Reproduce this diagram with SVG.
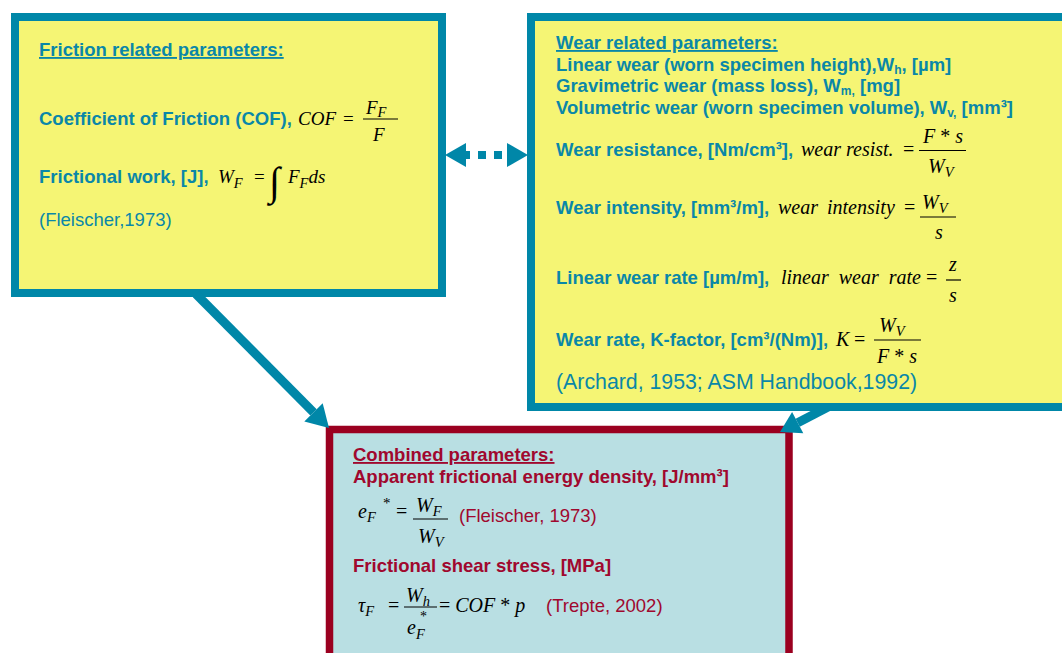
<svg xmlns="http://www.w3.org/2000/svg" width="1062" height="653" viewBox="0 0 1062 653">
<style>
.box{fill:#F5F574;stroke:#0087A8;stroke-width:8}
.cbox{fill:#B9DFE3;stroke:#9B0020;stroke-width:7.5}
.b{font-family:"Liberation Sans",Arial,sans-serif;font-weight:bold;font-size:18.5px}
.r{font-family:"Liberation Sans",Arial,sans-serif;font-size:18.5px}
.t{fill:#0A87A8}
.d{fill:#A0082E}
.u{text-decoration:underline}
.m{font-family:"Liberation Serif","Times New Roman",serif;font-style:italic;font-size:20px;fill:#000}
.n{font-family:"Liberation Serif","Times New Roman",serif;font-style:normal;font-size:20px;fill:#000}
.s{font-size:14.5px}
.bar{stroke:#000;stroke-width:1.2}
.conn{stroke:#0087A8;fill:none}
.head{fill:#0087A8}
</style>

<g id="friction-box">
<rect class="box" x="15" y="17" width="427" height="276"/>
<text class="b t u" x="39" y="56">Friction related parameters:</text>
<text class="b t" x="39" y="125">Coefficient of Friction (COF),</text>
<text class="m" x="298" y="125" style="font-size:19px">COF</text>
<text class="n" x="343" y="125" style="font-size:19px">=</text>
<text class="m" x="366" y="114" style="font-size:19px">F<tspan class="s" dy="3">F</tspan></text>
<line class="bar" x1="363" y1="119" x2="398" y2="119"/>
<text class="m" x="373" y="141" style="font-size:19px">F</text>
<text class="b t" x="39" y="183">Frictional work, [J],</text>
<text class="m" x="218" y="183" style="font-size:19px">W<tspan class="s" dy="5">F</tspan></text>
<text class="n" x="254" y="183" style="font-size:19px">=</text>
<text class="n" x="269" y="195" style="font-size:40px">∫</text>
<text class="m" x="288" y="183" style="font-size:19px">F<tspan class="s" dy="5">F</tspan><tspan dy="-5">ds</tspan></text>
<text class="r t" x="39" y="226">(Fleischer,1973)</text>
</g>

<g id="wear-box">
<rect class="box" x="531" y="17" width="600" height="390"/>
<text class="b t u" x="556" y="49">Wear related parameters:</text>
<text class="b t" x="556" y="70.5">Linear wear (worn specimen height),W<tspan style="font-size:12px" dy="3">h</tspan><tspan dy="-3">, [µm]</tspan></text>
<text class="b t" x="556" y="92">Gravimetric wear (mass loss), W<tspan style="font-size:12px" dy="3">m,</tspan><tspan dy="-3"> [mg]</tspan></text>
<text class="b t" x="556" y="113.5">Volumetric wear (worn specimen volume), W<tspan style="font-size:12px" dy="3">v,</tspan><tspan dy="-3"> [mm³]</tspan></text>

<text class="b t" x="556" y="156">Wear resistance, [Nm/cm³],</text>
<text class="m" x="801" y="156">wear resist.</text>
<text class="n" x="903" y="156">=</text>
<text class="m" x="923" y="143">F<tspan class="n"> * </tspan>s</text>
<line class="bar" x1="919" y1="150.5" x2="966" y2="150.5"/>
<text class="m" x="928" y="173">W<tspan class="s" dy="4">V</tspan></text>

<text class="b t" x="556" y="214">Wear intensity, [mm³/m],</text>
<text class="m" x="778" y="214" style="word-spacing:4px">wear intensity</text>
<text class="n" x="904" y="214">=</text>
<text class="m" x="922" y="209">W<tspan class="s" dy="4">V</tspan></text>
<line class="bar" x1="920" y1="217" x2="956" y2="217"/>
<text class="m" x="935" y="239">s</text>

<text class="b t" x="556" y="284">Linear wear rate [µm/m],</text>
<text class="m" x="781" y="284" style="word-spacing:5px">linear wear rate</text>
<text class="n" x="926" y="284">=</text>
<text class="m" x="949" y="271">z</text>
<line class="bar" x1="946" y1="280" x2="961" y2="280"/>
<text class="m" x="949" y="302">s</text>

<text class="b t" x="556" y="346">Wear rate, K-factor, [cm³/(Nm)],</text>
<text class="m" x="836" y="346">K</text>
<text class="n" x="854" y="346">=</text>
<text class="m" x="879" y="332">W<tspan class="s" dy="4">V</tspan></text>
<line class="bar" x1="874" y1="340" x2="921" y2="340"/>
<text class="m" x="877" y="363">F<tspan class="n"> * </tspan>s</text>

<text class="r t" x="556" y="389" style="font-size:21.3px">(Archard, 1953; ASM Handbook,1992)</text>
</g>

<g id="combined-box">
<rect class="cbox" x="329.5" y="429.5" width="459.5" height="300"/>
<text class="b d u" x="353" y="461">Combined parameters:</text>
<text class="b d" x="353" y="483">Apparent frictional energy density, [J/mm³]</text>
<text class="m" x="358" y="518">e<tspan class="s" dy="4">F</tspan><tspan class="n" x="383" y="508" style="font-size:15px">*</tspan></text>
<text class="n" x="396" y="518">=</text>
<text class="m" x="416" y="512">W<tspan class="s" dy="4">F</tspan></text>
<line class="bar" x1="413" y1="519" x2="448" y2="519"/>
<text class="m" x="418" y="543">W<tspan class="s" dy="4">V</tspan></text>
<text class="r d" x="459" y="522">(Fleischer, 1973)</text>

<text class="b d" x="353" y="572">Frictional shear stress, [MPa]</text>
<text class="m" x="358" y="612">τ<tspan class="s" dy="4">F</tspan></text>
<text class="n" x="388" y="612">=</text>
<text class="m" x="406" y="602">W<tspan class="s" dy="4">h</tspan></text>
<line class="bar" x1="404" y1="607" x2="437" y2="607"/>
<text class="m" x="407" y="634">e<tspan class="s" dy="5">F</tspan><tspan class="n" x="420" y="621" style="font-size:14px">*</tspan></text>
<text class="m" x="439" y="612"><tspan class="n">= </tspan>COF<tspan class="n"> * </tspan>p</text>
<text class="r d" x="546" y="612">(Trepte, 2002)</text>
</g>

<g id="connectors">
<line class="conn" x1="196" y1="294" x2="313.5" y2="412.4" stroke-width="9"/>
<polygon class="head" points="329,428 304.3,421.6 322.7,403.2"/>
<line class="conn" x1="828" y1="407" x2="797.7" y2="422.7" stroke-width="9"/>
<polygon class="head" points="780,432 803.3,433.3 792.1,412.1"/>
<line class="conn" x1="462" y1="155" x2="512" y2="155" stroke-width="8" stroke-dasharray="8 8"/>
<polygon class="head" points="445,155 466,143 466,167"/>
<polygon class="head" points="528,155 507,143 507,167"/>
</g>
</svg>
